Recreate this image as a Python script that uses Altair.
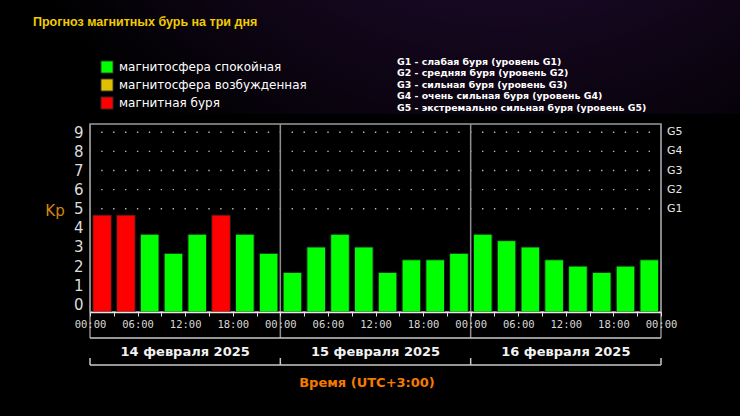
import altair as alt
import pandas as pd

# ---------------- data ----------------
hours = [0, 3, 6, 9, 12, 15, 18, 21,
         24, 27, 30, 33, 36, 39, 42, 45,
         48, 51, 54, 57, 60, 63, 66, 69]
kp = [4.67, 4.67, 3.67, 2.67, 3.67, 4.67, 3.67, 2.67,
      1.67, 3.0, 3.67, 3.0, 1.67, 2.33, 2.33, 2.67,
      3.67, 3.33, 3.0, 2.33, 2.0, 1.67, 2.0, 2.33]
CALM = "магнитосфера спокойная"
EXCITED = "магнитосфера возбужденная"
STORM = "магнитная буря"
status = [STORM, STORM, CALM, CALM, CALM, STORM, CALM, CALM,
          CALM, CALM, CALM, CALM, CALM, CALM, CALM, CALM,
          CALM, CALM, CALM, CALM, CALM, CALM, CALM, CALM]
status_names = [CALM, EXCITED, STORM]
status_colors = ["#00ff00", "#e0c000", "#ff0000"]

days = ["14 февраля 2025", "15 февраля 2025", "16 февраля 2025"]
day_mid = [12, 36, 60]
day_bounds = [0, 24, 48, 72]

kp_ticks = [0, 1, 2, 3, 4, 5, 6, 7, 8, 9]
g_levels = [5, 6, 7, 8, 9]
g_labels = ["G1", "G2", "G3", "G4", "G5"]
g_notes = ["G1 - слабая буря (уровень G1)",
           "G2 - средняя буря (уровень G2)",
           "G3 - сильная буря (уровень G3)",
           "G4 - очень сильная буря (уровень G4)",
           "G5 - экстремально сильная буря (уровень G5)"]

title_text = "Прогноз магнитных бурь на три дня"
x_title = "Время (UTC+3:00)"
y_title = "Kp"

# ---------------- tables ----------------
bars = pd.DataFrame({"h0": [h + 0.35 for h in hours],
                     "h1": [h + 2.7 for h in hours],
                     "kp": kp, "status": status})
grid = pd.DataFrame({"lvl": g_levels, "x0": [0] * 5, "x1": [72] * 5})
glab = pd.DataFrame({"lvl": g_levels, "lab": g_labels})
dayl = pd.DataFrame({"mid": day_mid, "day": days})
bnd = pd.DataFrame({"b": day_bounds})
span = pd.DataFrame({"x0": [0], "x1": [72]})
one = pd.DataFrame({"k": [0]})

W, H = 571, 188
YMIN, YMAX = -0.403, 9.435
xs = alt.Scale(domain=[0, 72], nice=False, zero=False)
ys = alt.Scale(domain=[YMIN, YMAX], nice=False, zero=False)

SANS = "DejaVu Sans"

XAXIS = alt.Axis(values=list(range(0, 73, 3)),
                 labelExpr="datum.value % 6 == 0 ? ((datum.value % 24 < 10 ? '0' : '') + (datum.value % 24) + ':00') : ''",
                 labelFont="DejaVu Sans Mono", labelFontSize=10.5, labelColor="#d8d8d8",
                 labelPadding=3, tickSize=4, tickColor="#e0e0e0", domainColor="#e6e6e6",
                 domainWidth=1.5, grid=False, labelFlush=False, labelOverlap=False,
                 zindex=2, title=None)
YAXIS = alt.Axis(values=kp_ticks, labelFont=SANS, labelFontSize=15,
                 labelColor="#dcdcdc", labelPadding=7, tickSize=0, domain=False,
                 grid=False, labelOverlap=False, labelFlush=False, labelBound=False,
                 title=None)

# background glow at the top
bg = alt.Chart(one).mark_rect(
    color={"gradient": "radial", "x1": 0.68, "y1": 0.0, "r1": 0.0,
           "x2": 0.68, "y2": 0.0, "r2": 0.75,
           "stops": [{"offset": 0, "color": "#3a1052"},
                     {"offset": 0.45, "color": "#1c0a2a"},
                     {"offset": 1, "color": "#000000"}]}
).encode(x=alt.value(-90), x2=alt.value(650), y=alt.value(-124), y2=alt.value(-10))

dots = alt.Chart(grid).mark_rule(color="#b8b8b8", strokeWidth=1.4,
                                 strokeDash=[1.4, 10.5], strokeDashOffset=0.7).encode(
    x=alt.X("x0:Q", scale=xs, axis=XAXIS), x2="x1:Q",
    y=alt.Y("lvl:Q", scale=ys, axis=YAXIS))

barl = alt.Chart(bars).mark_rect(stroke="#1c1c1c", strokeWidth=1).encode(
    x=alt.X("h0:Q", scale=xs, axis=XAXIS),
    x2="h1:Q",
    y=alt.Y("kp:Q", scale=ys, axis=YAXIS),
    y2=alt.datum(YMIN),
    color=alt.Color("status:N", scale=alt.Scale(domain=status_names, range=status_colors),
                    legend=alt.Legend(orient="none", legendX=10, legendY=-64, title=None,
                                      symbolType="square", symbolSize=150, symbolOpacity=1,
                                      symbolStrokeColor="#222222", symbolStrokeWidth=1,
                                      labelColor="#ffffff", labelFont=SANS, labelFontSize=12,
                                      labelLimit=400, labelOffset=5, rowPadding=0,
                                      direction="vertical")))

seps = alt.Chart(bnd).mark_rule(color="#8e8e8e", strokeWidth=1.5).encode(
    x=alt.X("b:Q", scale=xs, axis=XAXIS), y=alt.value(0), y2=alt.value(214))

br1 = alt.Chart(span).mark_rule(color="#c8c8c8", strokeWidth=1.5).encode(
    x=alt.X("x0:Q", scale=xs, axis=XAXIS), x2="x1:Q", y=alt.value(214))
br2 = alt.Chart(span).mark_rule(color="#c8c8c8", strokeWidth=1.5).encode(
    x=alt.X("x0:Q", scale=xs, axis=XAXIS), x2="x1:Q", y=alt.value(241))
br2t = alt.Chart(bnd).mark_rule(color="#c8c8c8", strokeWidth=1.5).encode(
    x=alt.X("b:Q", scale=xs, axis=XAXIS), y=alt.value(234), y2=alt.value(241))

dayt = alt.Chart(dayl).mark_text(font=SANS, fontSize=13, fontWeight="bold",
                                 color="#f2f2f2", baseline="middle").encode(
    x=alt.X("mid:Q", scale=xs, axis=XAXIS), y=alt.value(228), text="day:N")

gt = alt.Chart(glab).mark_text(font=SANS, fontSize=11, color="#e6e6e6",
                               align="left", baseline="middle").encode(
    x=alt.value(577), y=alt.Y("lvl:Q", scale=ys, axis=YAXIS), text="lab:N")

def label(txt, x, y, **kw):
    return alt.Chart(one).mark_text(text=txt, **kw).encode(x=alt.value(x), y=alt.value(y))

title = label(title_text, -57, -102, font="Liberation Sans", fontSize=12.5, fontWeight="bold",
              color="#f0cc00", align="left", baseline="middle")
kpt = label(y_title, -35, 87, font=SANS, fontSize=15, color="#d4860b",
            align="center", baseline="middle")
xt = label(x_title, 277, 259, font=SANS, fontSize=13, fontWeight="bold",
           color="#f47b00", align="center", baseline="middle")
gnotes = label("\n".join(g_notes), 307, -66, font=SANS, fontSize=9.4, fontWeight="bold",
               color="#ffffff", align="left", baseline="top", lineBreak="\n", lineHeight=11.4)

chart = alt.layer(bg, dots, barl, seps, br1, br2, br2t, dayt, gt, title, kpt, xt, gnotes).properties(
    width=W, height=H,
    autosize=alt.AutoSizeParams(type="none"),
    padding={"left": 90, "top": 124, "right": 79, "bottom": 104},
    background="#000000",
).configure_view(stroke="#9a9a9a", strokeWidth=1.5, fill="#000000")

chart.save("out.html", embed_options={"renderer": "svg", "actions": False})
